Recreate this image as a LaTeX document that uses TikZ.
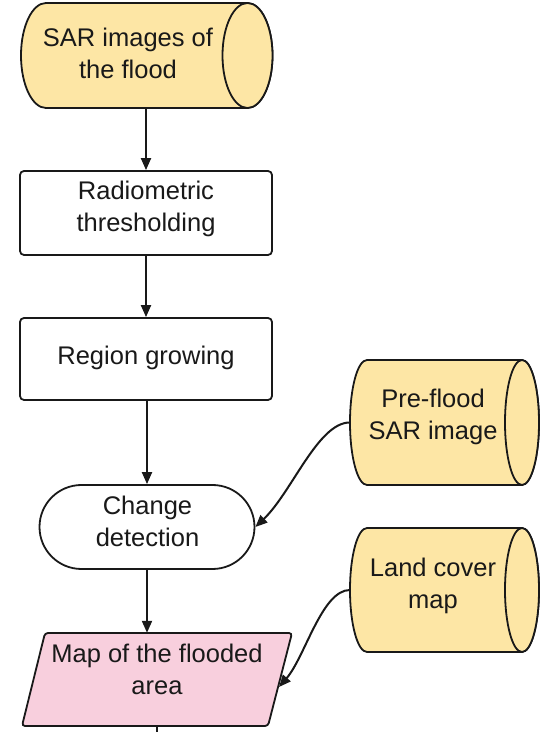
\documentclass[tikz,border=0pt]{standalone}
\usepackage{fontspec}
\setmainfont{Liberation Sans}
\usetikzlibrary{arrows.meta}
\definecolor{cylfill}{RGB}{253,230,165}
\definecolor{mapfill}{RGB}{248,207,221}
\definecolor{ink}{RGB}{25,25,25}
\newcommand{\mycyl}[5]{%
  \filldraw[cylstyle] (#1,#3+#5) -- (#2,#3+#5) arc[start angle=90,end angle=-90,x radius=#4,y radius=#5] -- (#1,#3-#5) arc[start angle=270,end angle=90,x radius=#4,y radius=#5] -- cycle;
  \draw[cylstyle] (#2,#3) ellipse[x radius=#4, y radius=#5];}
\begin{document}
\begin{tikzpicture}[x=1pt,y=1pt,
  lbl/.style={font=\fontsize{25.5}{32}\selectfont, align=center, inner sep=0pt, text=ink},
  cylstyle/.style={draw=ink, line width=1.8pt, fill=cylfill},
  ghost/.style={draw=none, inner sep=0pt},
  stepbox/.style={draw=ink, line width=1.8pt, fill=white, rounded corners=4pt, inner sep=0pt},
  arr/.style={draw=ink, line width=2pt, -{Triangle[length=12pt,width=10pt]}},
  plain/.style={draw=ink, line width=2pt}]
\useasboundingbox (0,0) rectangle (539,732);
% cylinders
\mycyl{46}{247.5}{676.5}{25}{52.5}
\mycyl{367}{522}{309.5}{17}{62.5}
\mycyl{367}{522}{142}{17}{62}
\node[ghost, minimum width=252pt, minimum height=105pt] (sarbody) at (147,676.5) {};
\node[lbl] (sar) at (128,678.5) {SAR images of\\the flood};
\node[ghost, minimum width=189pt, minimum height=125pt] (prebody) at (444.5,309.5) {};
\node[lbl] (pre) at (433,315.5) {Pre-flood\\SAR image};
\node[ghost, minimum width=189pt, minimum height=124pt] (landbody) at (444.5,142) {};
\node[lbl] (land) at (433,146) {Land cover\\map};
% boxes
\node[stepbox, minimum width=252pt, minimum height=84pt] (rad) at (146,519) {};
\node[lbl] (radtxt) at (146,523) {Radiometric\\thresholding};
\node[stepbox, minimum width=252pt, minimum height=82pt] (rg) at (146,373) {};
\node[lbl] (rgtxt) at (146,374) {Region growing};
\node[stepbox, minimum width=215pt, minimum height=84pt, rounded corners=42pt] (cd) at (147,205) {};
\node[lbl] (cdtxt) at (147.5,211) {Change\\detection};
% parallelogram
\filldraw[draw=ink, line width=1.8pt, fill=mapfill, rounded corners=3pt] (45,99) -- (292,99) -- (268,6) -- (22,6) -- cycle;
\node[ghost, minimum width=200pt, minimum height=93pt] (map) at (157,52.5) {};
\node[lbl] (maptxt) at (157,63) {Map of the flooded\\area};
\coordinate (mapin) at (279,45);
\coordinate (out) at (157,0);
% connectors
\draw[arr] (rad.north |- sarbody.south) -- (rad.north);
\draw[arr] (rg.north |- rad.south) -- (rg.north);
\draw[arr] (cd.north |- rg.south) -- (cd.north);
\draw[arr] (cd.south) -- (cd.south |- map.north);
\draw[plain] (map.south) -- (out);
\draw[arr] (prebody.west) .. controls (318,309.5) and (292,240) .. (cd.east);
\draw[arr] (landbody.west) .. controls (322,142) and (305,75) .. (mapin);
\end{tikzpicture}
\end{document}
